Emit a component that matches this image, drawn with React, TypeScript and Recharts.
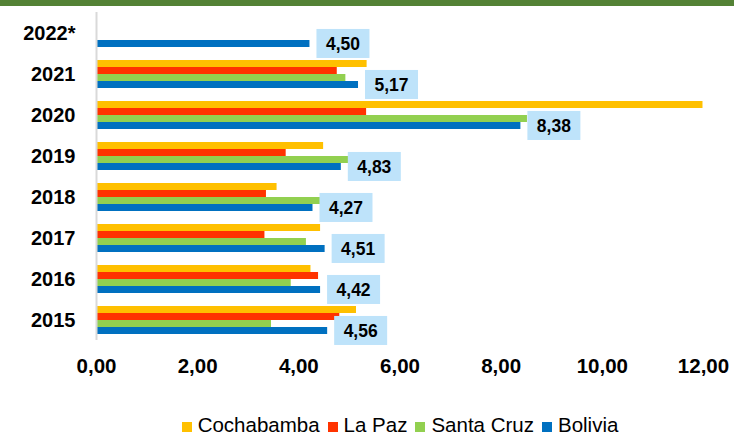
import { BarChart, Bar, XAxis, YAxis, LabelList } from 'recharts';

const years = ['2022*', '2021', '2020', '2019', '2018', '2017', '2016', '2015'];
const cochabamba = [null, 5.34, 11.98, 4.48, 3.56, 4.42, 4.23, 5.13];
const laPaz = [null, 4.75, 5.33, 3.74, 3.35, 3.32, 4.38, 4.8];
const santaCruz = [null, 4.92, 8.51, 4.99, 4.42, 4.14, 3.84, 3.45];
const bolivia = [4.21, 5.17, 8.38, 4.83, 4.27, 4.51, 4.42, 4.56];
const boliviaLabels = ['4,50', '5,17', '8,38', '4,83', '4,27', '4,51', '4,42', '4,56'];
const xTicks = [0, 2, 4, 6, 8, 10, 12];

const series = [
  { key: 'cochabamba', name: 'Cochabamba', color: '#FFC000' },
  { key: 'laPaz', name: 'La Paz', color: '#FF3300' },
  { key: 'santaCruz', name: 'Santa Cruz', color: '#92D050' },
  { key: 'bolivia', name: 'Bolivia', color: '#0070C0' },
];

const data = years.map((year, i) => ({
  year,
  cochabamba: cochabamba[i],
  laPaz: laPaz[i],
  santaCruz: santaCruz[i],
  bolivia: bolivia[i],
}));

const FONT = '"Liberation Sans", Arial, sans-serif';

const fmt = (v: number) => v.toFixed(2).replace('.', ',');

// light blue value box to the right of each Bolivia bar
const BoxLabel = (props: any) => {
  const { x, y, width, height, index } = props;
  const bx = Number(x) + Number(width) + 7;
  const cy = Number(y) + Number(height) / 2;
  return (
    <g>
      <rect x={bx} y={cy - 14.5} width={53} height={29} fill="#BEE3FA" />
      <text
        x={bx + 26.5}
        y={cy + 1}
        textAnchor="middle"
        dominantBaseline="central"
        fontSize={17.5}
        fontWeight="bold"
        fontFamily={FONT}
        fill="#000"
      >
        {boliviaLabels[index]}
      </text>
    </g>
  );
};

export default function App() {
  return (
    <div style={{ position: 'relative', width: 734, height: 438, overflow: 'hidden', background: '#fff', fontFamily: FONT }}>
      <style>{`body{margin:0}`}</style>
      <div style={{ position: 'absolute', top: 0, left: 0, width: 734, height: 6, background: '#548235' }} />
      <BarChart
        width={734}
        height={438}
        data={data}
        layout="vertical"
        barCategoryGap="17%"
        barGap={0}
        margin={{ top: 12, right: 30.5, bottom: 68, left: 0 }}
      >
        <XAxis
          type="number"
          domain={[0, 12]}
          ticks={xTicks}
          tickFormatter={fmt}
          axisLine={false}
          tickLine={false}
          tickMargin={12}
          height={30}
          interval={0}
          tick={{ fontSize: 20.5, fontWeight: 'bold', fill: '#000', fontFamily: FONT }}
        />
        <YAxis
          type="category"
          dataKey="year"
          width={96.5}
          interval={0}
          tickLine={false}
          tickMargin={15}
          axisLine={{ stroke: '#D9D9D9', strokeWidth: 2 }}
          tick={{ fontSize: 20, fontWeight: 'bold', fill: '#000', fontFamily: FONT }}
        />
        {series.map((s) => (
          <Bar key={s.key} dataKey={s.key} name={s.name} fill={s.color} isAnimationActive={false}>
            {s.key === 'bolivia' && <LabelList dataKey="bolivia" content={BoxLabel} />}
          </Bar>
        ))}
      </BarChart>
      <div
        style={{
          position: 'absolute',
          top: 413,
          left: 96.5,
          width: 607,
          display: 'flex',
          justifyContent: 'center',
          whiteSpace: 'nowrap',
          fontSize: 20.5,
          lineHeight: 'normal',
          color: '#000',
        }}
      >
        {series.map((s, i) => (
          <span key={s.key} style={{ marginLeft: i === 0 ? 0 : 8 }}>
            <span style={{ display: 'inline-block', width: 10, height: 10, background: s.color, marginRight: 6 }} />
            {s.name}
          </span>
        ))}
      </div>
    </div>
  );
}
